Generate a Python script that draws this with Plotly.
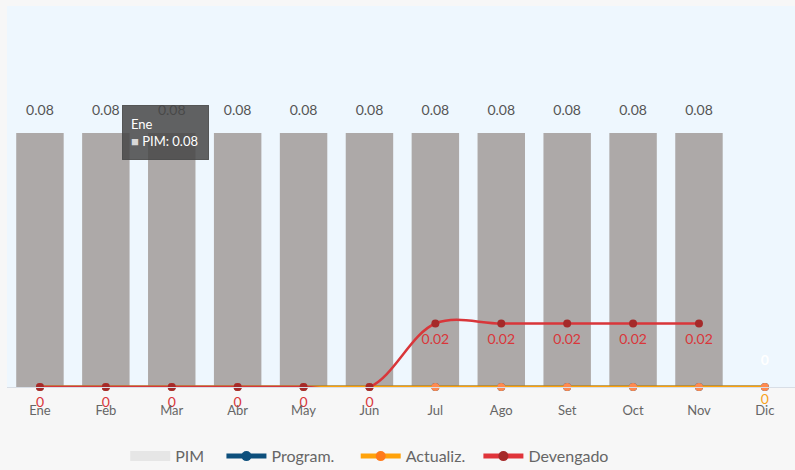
import plotly.graph_objects as go

months = ["Ene", "Feb", "Mar", "Abr", "May", "Jun", "Jul", "Ago", "Set", "Oct", "Nov", "Dic"]
pim = [0.08, 0.08, 0.08, 0.08, 0.08, 0.08, 0.08, 0.08, 0.08, 0.08, 0.08, None]
program = [0, 0, 0, 0, 0, 0, 0, 0, 0, 0, 0, 0]
actualiz = [0, 0, 0, 0, 0, 0, 0, 0, 0, 0, 0, 0]
devengado = [0, 0, 0, 0, 0, 0, 0.02, 0.02, 0.02, 0.02, 0.02, None]

FONT = "Lato"
NB = "\u00a0"
x = list(range(len(months)))


def fmt(v):
    if v is None:
        return ""
    return "0" if v == 0 else "%.2f" % v


fig = go.Figure()

fig.add_trace(go.Bar(
    x=x, y=pim, name="PIM", showlegend=False,
    marker=dict(color="#ADA9A8", line=dict(width=0)),
    width=0.72, hoverinfo="skip",
))
# bar value labels (placed a little above the bars)
fig.add_trace(go.Scatter(
    x=x, y=pim, mode="markers+text", showlegend=False, hoverinfo="skip",
    marker=dict(size=22, opacity=0),
    text=[fmt(v) for v in pim], textposition="top center",
    textfont=dict(family=FONT, size=14, color="#555555"),
    cliponaxis=False,
))

fig.add_trace(go.Scatter(
    x=x, y=program, name="Program.", showlegend=False, mode="lines+markers",
    line=dict(color="#0D4F7C", width=3),
    marker=dict(color="#0D4F7C", size=8),
    cliponaxis=False, hoverinfo="skip",
))
fig.add_trace(go.Scatter(
    x=x, y=program, mode="markers+text", showlegend=False, hoverinfo="skip",
    marker=dict(size=28, opacity=0),
    text=["" for _ in program[:-1]] + ["<b>0</b>"],
    textposition="top center",
    textfont=dict(family=FONT, size=14, color="#FFFFFF"),
    cliponaxis=False,
))

fig.add_trace(go.Scatter(
    x=x, y=actualiz, name="Actualiz.", showlegend=False, mode="lines+markers+text",
    line=dict(color="#FFA20A", width=3),
    marker=dict(color="#FF8A50", size=8),
    text=["" for _ in actualiz[:-1]] + ["0"],
    textposition="bottom center",
    textfont=dict(family=FONT, size=14, color="#F7A21B"),
    cliponaxis=False, hoverinfo="skip",
))

fig.add_trace(go.Scatter(
    x=x, y=devengado, name="Devengado", showlegend=False, mode="lines+markers",
    line=dict(color="#D9363A", width=2.5, shape="spline", smoothing=1),
    marker=dict(color="#A52A2A", size=8),
    cliponaxis=False, hoverinfo="skip",
))
fig.add_trace(go.Scatter(
    x=x, y=devengado, mode="markers+text", showlegend=False, hoverinfo="skip",
    marker=dict(size=14, opacity=0),
    text=[fmt(v) for v in devengado],
    textposition="bottom center",
    textfont=dict(family=FONT, size=14, color="#D9363A"),
    cliponaxis=False,
))

# legend entries (styled like the reference legend symbols)
fig.add_trace(go.Scatter(
    x=[None], y=[None], name="PIM" + NB * 3, mode="lines",
    line=dict(color="#E6E6E6", width=12),
))
fig.add_trace(go.Scatter(
    x=[None], y=[None], name="Program." + NB * 4, mode="lines+markers",
    line=dict(color="#0D4F7C", width=5), marker=dict(color="#0D4F7C", size=10),
))
fig.add_trace(go.Scatter(
    x=[None], y=[None], name="Actualiz." + NB * 2, mode="lines+markers",
    line=dict(color="#FFA20A", width=5), marker=dict(color="#FF7A1A", size=10),
))
fig.add_trace(go.Scatter(
    x=[None], y=[None], name="Devengado", mode="lines+markers",
    line=dict(color="#E0343A", width=5), marker=dict(color="#A52A2A", size=10),
))

# tooltip-like box
fig.add_annotation(
    xref="paper", yref="paper", x=0.146, y=0.667, xanchor="left", yanchor="middle",
    text="Ene<br><span style='color:#D8D8D8'>■</span> PIM: 0.08",
    showarrow=False, align="left", valign="middle",
    width=69, height=37,
    font=dict(family=FONT, size=13, color="#FFFFFF"),
    bgcolor="rgba(70,70,70,0.85)", bordercolor="rgba(70,70,70,0.85)",
    borderpad=8,
)

fig.update_layout(
    width=795, height=470,
    margin=dict(l=7, r=0, t=6, b=83, autoexpand=False),
    paper_bgcolor="#F7F7F7",
    plot_bgcolor="#EEF7FE",
    font=dict(family=FONT, size=13, color="#666666"),
    barmode="overlay",
    showlegend=True,
    legend=dict(orientation="h", x=0.150, xanchor="left", y=-0.137, yanchor="top",
                font=dict(family=FONT, size=16, color="#666666"),
                bgcolor="rgba(0,0,0,0)", itemwidth=40),
    xaxis=dict(
        tickmode="array", tickvals=x, ticktext=months,
        range=[-0.5, 11.457],
        showgrid=False, zeroline=False,
        showline=True, linecolor="#D8DEE6", linewidth=1,
        ticks="outside", ticklen=11, tickcolor="rgba(0,0,0,0)",
        tickfont=dict(family=FONT, size=13, color="#666666"),
    ),
    yaxis=dict(
        range=[0, 0.12], showgrid=False, zeroline=False,
        showticklabels=False, showline=False,
    ),
)

fig.write_html(
    "out.html",
    config={"displayModeBar": False},
    post_script="document.body.style.margin='0';document.body.style.background='#F7F7F7';",
)
